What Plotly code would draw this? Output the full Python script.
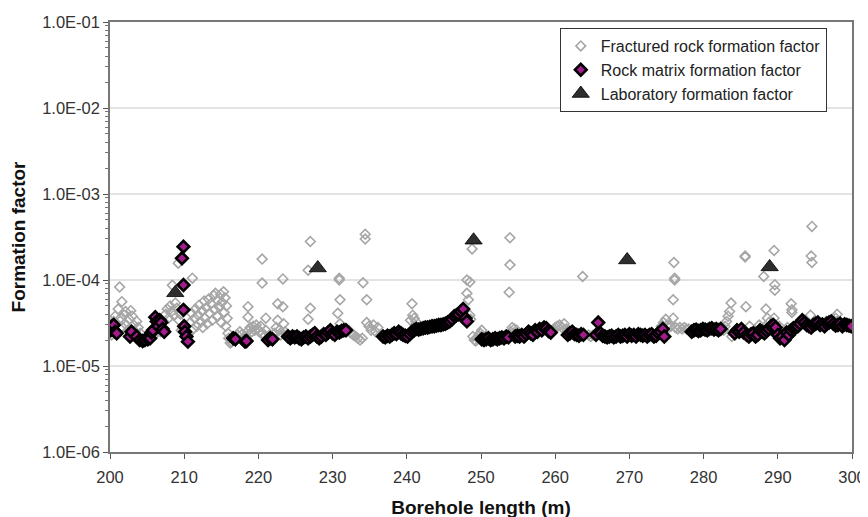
import plotly.graph_objects as go

# ---------------- data (formation factor values given in units of 1e-5) ----------------
frac_depth = [
    200.2, 200.4, 200.5, 200.7, 200.9, 201.1, 201.3, 201.4, 201.6, 201.7, 201.9, 202.1, 202.2, 202.4,
    202.6, 202.8, 203.0, 203.2, 203.4, 203.6, 203.8, 204.1, 205.2, 205.8,
    206.8, 207.2, 207.5, 207.7, 207.9, 208.1, 208.3, 208.4, 208.6, 208.8, 209.0, 209.2, 209.3, 209.5, 209.6,
    210.6, 210.8, 211.0, 211.1, 211.2, 211.4, 211.5, 211.7, 211.9, 212.0, 212.2, 212.4, 212.5, 212.7,
    212.8, 213.0, 213.1, 213.3, 213.4, 213.6, 213.8, 214.0, 214.1, 214.2, 214.4, 214.5, 214.7, 214.9,
    215.0, 215.1, 215.3, 215.4, 215.5, 215.6, 215.7, 215.8, 215.9, 216.0, 216.2, 216.4,
    216.9, 217.2, 217.5, 217.7, 217.9, 218.4, 218.6, 218.6, 218.7, 218.9, 219.1, 219.3, 219.5, 219.7,
    219.9, 220.1, 220.3, 220.5, 220.5, 220.6, 220.8, 221.0, 221.0, 221.5, 222.2, 222.4, 222.6, 222.6,
    222.8, 223.0, 223.3, 223.3, 223.4, 223.6, 223.8,
    226.7, 226.7, 227.0, 227.0, 230.7, 230.9, 230.9, 231.0, 231.0,
    232.2, 232.5, 232.8, 233.1, 233.4, 233.7, 234.0, 234.1, 234.4, 234.4, 234.6, 234.6, 234.9, 235.2,
    235.5, 235.8, 236.1, 236.4, 236.7,
    240.5, 240.7, 240.8, 241.0, 241.2,
    248.1, 248.5, 248.1, 248.3, 248.5, 248.6, 248.8, 248.9, 249.1, 249.3, 249.5, 249.7, 249.9, 250.1,
    253.8, 253.9, 253.9, 254.0, 254.2, 254.5, 254.8,
    259.7, 260.0, 260.3, 260.6, 260.9, 261.2, 261.5, 261.8, 262.1, 263.7,
    264.5, 264.8, 265.1,
    274.3, 274.6, 274.9, 275.1, 275.3, 275.6, 275.9, 275.9, 276.0, 276.1, 276.1, 276.2, 276.5, 276.8,
    277.1, 277.4, 277.7, 278.0, 278.3,
    282.7, 282.9, 283.1, 283.3, 283.5, 283.7, 283.8, 284.0,
    285.6, 285.6, 285.7, 286.2, 287.5, 288.1, 288.4, 288.6, 288.8, 289.5, 289.6, 289.6, 289.5, 290.2,
    291.3, 291.8, 291.9, 291.9, 293.2, 294.4, 294.5, 294.6, 294.6, 296.5, 297.8, 298.0, 298.0, 299.0,
]
frac_ff_e5 = [
    2.3, 2.7, 3.3, 3.8, 3.1, 4.6, 8.3, 3.6, 5.6, 2.8, 3.9, 4.3, 3.0, 2.6,
    3.5, 4.4, 3.8, 3.0, 2.5, 3.3, 2.8, 2.4, 2.3, 2.2,
    2.5, 3.3, 4.0, 4.6, 3.6, 5.0, 4.3, 8.7, 3.9, 5.4, 4.7, 15.7, 3.4, 4.0, 2.6,
    2.4, 3.2, 4.1, 10.5, 2.7, 3.6, 4.6, 2.9, 3.9, 5.1, 3.3, 4.4, 2.8, 5.7,
    3.6, 4.8, 3.1, 6.0, 4.1, 5.3, 3.4, 6.6, 4.5, 7.0, 3.8, 5.8, 4.9, 6.8,
    3.2, 5.5, 7.3, 4.2, 6.2, 2.9, 5.0, 3.6, 2.4, 2.1, 1.85, 1.9,
    2.2, 2.3, 2.5, 2.3, 2.1, 2.2, 4.9, 3.7, 2.6, 2.8, 2.5, 2.9, 2.6, 3.0,
    2.7, 2.5, 2.9, 17.5, 9.2, 2.4, 2.2, 3.6, 2.6, 2.3, 2.4, 2.8, 5.3, 3.4,
    2.6, 2.3, 10.3, 4.9, 3.1, 2.5, 2.3,
    13.0, 3.5, 28.0, 4.7, 4.1, 10.0, 10.5, 5.9, 3.1,
    2.6, 2.4, 2.3, 2.2, 2.1, 2.0, 2.1, 9.3, 34.0, 30.0, 5.9, 3.2, 2.9, 2.6,
    3.0, 2.5, 2.8, 2.3, 2.2,
    3.4, 5.3, 3.9, 3.6, 3.3,
    10.0, 9.5, 7.0, 5.9, 3.9, 3.5, 23.0, 2.2, 2.0, 1.95, 2.1, 2.3, 2.4, 2.6,
    7.2, 15.0, 31.0, 2.5, 2.8, 2.7, 2.6,
    2.6, 2.8, 2.9, 3.0, 2.8, 3.1, 2.7, 2.6, 2.5, 11.0,
    2.3, 2.2, 2.3,
    2.9, 3.2, 3.5, 3.0, 2.8, 2.9, 5.9, 3.6, 16.0, 10.0, 10.5, 2.8, 2.7, 2.8,
    2.7, 2.8, 2.7, 2.7, 2.6,
    2.6, 2.9, 3.3, 3.8, 4.3, 5.4, 2.2, 2.4,
    19.0, 18.5, 4.9, 2.9, 3.0, 11.0, 4.6, 3.6, 3.2, 22.0, 8.8, 7.6, 3.6, 2.9,
    2.8, 5.3, 4.5, 4.2, 3.4, 3.9, 19.0, 42.0, 16.0, 3.3, 3.6, 4.0, 3.3, 3.2,
]

matrix_depth = [
    200.1, 200.3, 200.5, 200.7, 200.9, 202.7, 202.9, 203.6, 204.0, 204.4, 204.7, 205.1,
    205.4, 205.6, 205.8, 206.1, 206.3, 206.5, 206.7, 206.9, 207.1, 207.3,
    209.9, 209.7, 209.9, 209.9, 210.0, 210.1, 210.3, 210.5,
    216.6, 216.9, 218.2, 218.4, 221.3, 221.6, 221.9,
    224.0, 224.3, 224.6, 224.9, 225.2, 225.5, 225.8, 226.1, 226.4, 226.7, 227.0, 227.3, 227.6, 227.9,
    228.2, 228.5, 228.8, 229.1, 229.4, 229.7, 230.0, 230.3, 230.6, 230.9, 231.2, 231.5, 231.8,
    236.8, 237.1, 237.4, 237.7, 238.0, 238.3, 238.6, 238.9, 239.2, 239.5, 239.8, 240.1, 240.4, 240.7,
    241.0, 241.3, 241.6, 241.9, 242.2, 242.5, 242.8, 243.1, 243.4, 243.7, 244.0, 244.3, 244.6, 244.9,
    245.2, 245.5, 245.8, 246.1, 246.4, 246.7, 247.0, 247.3, 247.6, 247.9, 248.1,
    250.1, 250.4, 250.7, 251.0, 251.3, 251.6, 251.9, 252.2, 252.5, 252.8, 253.1, 253.4, 253.7, 254.6,
    254.9, 255.2, 255.5, 255.8, 256.1, 256.4, 256.7, 257.0, 257.3, 257.6, 257.9, 258.2, 258.5, 258.8,
    259.1, 259.4, 261.7, 262.0, 262.3, 262.6, 262.9, 263.2, 263.5, 263.8,
    265.5, 265.8, 266.1, 266.4, 266.7, 267.0, 267.3, 267.6, 267.9, 268.2, 268.5, 268.8, 269.1, 269.4,
    269.7, 270.0, 270.3, 270.6, 270.9, 271.2, 271.5, 271.8, 272.1, 272.4, 272.7, 273.0, 273.3, 273.6,
    273.9, 274.2, 274.5, 274.7,
    278.4, 278.7, 279.0, 279.3, 279.6, 279.9, 280.2, 280.5, 280.8, 281.1, 281.4, 281.7, 282.0, 282.3,
    284.2, 284.5, 284.8, 285.1, 285.4, 285.8, 286.1, 286.4, 286.7, 287.0, 287.3, 287.6, 287.9, 288.2,
    288.5, 288.8, 289.1, 289.4, 289.7, 290.0, 290.3, 290.6, 290.9, 291.2, 291.5, 291.8, 292.1, 292.4,
    292.7, 293.0, 293.3, 293.6, 293.9, 294.2, 294.5, 294.8, 295.1, 295.4, 295.7, 296.0, 296.3, 296.6,
    296.9, 297.2, 297.5, 297.8, 298.1, 298.4, 298.7, 299.0, 299.3, 299.6, 299.9,
]
matrix_ff_e5 = [
    2.6, 2.9, 3.0, 2.5, 2.4, 2.2, 2.5, 2.2, 2.0, 1.95, 2.0, 2.05,
    2.1, 2.45, 2.6, 3.7, 3.3, 2.9, 3.4, 3.2, 2.7, 2.5,
    24.4, 17.9, 8.75, 4.5, 2.9, 2.5, 2.2, 1.92,
    2.1, 2.05, 1.92, 1.95, 2.0, 2.1, 2.05,
    2.2, 2.1, 2.2, 2.15, 2.2, 2.1, 2.05, 2.15, 2.2, 2.1, 2.2, 2.3, 2.4, 2.2,
    2.1, 2.2, 2.35, 2.3, 2.45, 2.6, 2.4, 2.3, 2.5, 2.45, 2.55, 2.6, 2.6,
    2.2, 2.15, 2.25, 2.2, 2.3, 2.4, 2.35, 2.5, 2.4, 2.3, 2.25, 2.2, 2.35, 2.5,
    2.6, 2.7, 2.65, 2.7, 2.75, 2.8, 2.8, 2.85, 2.9, 2.9, 2.95, 3.0, 3.0, 3.05,
    3.1, 3.2, 3.3, 3.5, 3.8, 3.9, 4.0, 4.3, 4.6, 3.6, 3.3,
    2.05, 2.0, 2.05, 2.1, 2.0, 2.05, 2.1, 2.05, 2.1, 2.15, 2.1, 2.2, 2.15, 2.2,
    2.25, 2.2, 2.3, 2.2, 2.35, 2.5, 2.4, 2.3, 2.6, 2.5, 2.7, 2.6, 2.8, 2.75,
    2.55, 2.45, 2.3, 2.4, 2.5, 2.35, 2.3, 2.25, 2.35, 2.3,
    2.3, 3.2, 2.4, 2.25, 2.2, 2.15, 2.2, 2.25, 2.15, 2.2, 2.3, 2.2, 2.25, 2.3,
    2.2, 2.35, 2.25, 2.3, 2.2, 2.35, 2.3, 2.25, 2.3, 2.2, 2.3, 2.35, 2.2, 2.25,
    2.4, 2.5, 2.7, 2.2,
    2.5, 2.6, 2.65, 2.55, 2.6, 2.7, 2.65, 2.6, 2.7, 2.75, 2.65, 2.7, 2.6, 2.7,
    2.4, 2.6, 2.5, 2.7, 2.45, 2.3, 2.2, 2.35, 2.4, 2.2, 2.3, 2.6, 2.5, 2.4,
    2.55, 2.7, 2.9, 3.0, 2.8, 2.3, 2.1, 2.2, 2.0, 2.45, 2.3, 2.6, 2.75, 2.8,
    2.9, 3.1, 3.4, 3.2, 3.0, 2.9, 2.8, 3.0, 3.1, 3.2, 3.0, 3.05, 2.9, 3.1,
    3.2, 3.3, 3.1, 2.95, 3.0, 3.1, 2.9, 3.05, 3.0, 2.95, 2.9,
]

lab_depth = [208.8, 228.0, 249.0, 269.7, 288.9]
lab_ff_e5 = [7.1, 13.8, 29.0, 17.1, 14.2]

y_tick_vals = [1e-6, 1e-5, 1e-4, 1e-3, 1e-2, 1e-1]
y_tick_text = ["1.0E-06", "1.0E-05", "1.0E-04", "1.0E-03", "1.0E-02", "1.0E-01"]
x_tick_vals = [200, 210, 220, 230, 240, 250, 260, 270, 280, 290, 300]
y_minor_vals = [k * d for d in y_tick_vals[:-1] for k in range(2, 10)]

E5 = 1e-5
frac_ff = [v * E5 for v in frac_ff_e5]
matrix_ff = [v * E5 for v in matrix_ff_e5]
lab_ff = [v * E5 for v in lab_ff_e5]

FONT = "Liberation Sans, Arial, sans-serif"

fig = go.Figure()
fig.add_trace(go.Scatter(
    x=frac_depth, y=frac_ff, mode="markers", name="Fractured rock formation factor",
    marker=dict(symbol="diamond-open", size=7.5, color="#a6a6a6", line=dict(width=1.6, color="#a6a6a6")),
))
fig.add_trace(go.Scatter(
    x=matrix_depth, y=matrix_ff, mode="markers", name="Rock matrix formation factor",
    marker=dict(symbol="diamond", size=9, color="#a21c8c", line=dict(width=2.6, color="#000000")),
))
fig.add_trace(go.Scatter(
    x=lab_depth, y=lab_ff, mode="markers", name="Laboratory formation factor",
    marker=dict(symbol="triangle-up", size=15, color="#2e2e2e", line=dict(width=0.8, color="#000000")),
))

# the page adds an 8 px body margin, so margins are offset to place the plot area
fig.update_layout(
    width=868, height=517,
    margin=dict(l=102, r=24, t=14, b=73),
    paper_bgcolor="white", plot_bgcolor="white",
    font=dict(family=FONT, size=16, color="#222"),
    showlegend=True,
    legend=dict(
        x=0.966, y=0.986, xanchor="right", yanchor="top",
        bgcolor="white", bordercolor="#333", borderwidth=1,
        font=dict(family=FONT, size=16, color="#222"),
        tracegroupgap=0, itemwidth=30,
    ),
)
fig.update_xaxes(
    range=[200, 300], tickvals=x_tick_vals, ticks="outside", ticklen=5, tickwidth=1.2,
    tickcolor="#555", showline=True, linecolor="#777", linewidth=1.5, mirror=True,
    showgrid=False, zeroline=False, automargin=False, ticklabelstandoff=4,
    tickfont=dict(family=FONT, size=16.5, color="#333"),
    title=dict(text="<b>Borehole length (m)</b>", font=dict(family=FONT, size=19, color="#111"), standoff=16),
)
fig.update_yaxes(
    type="log", range=[-6, -1], tickvals=y_tick_vals, ticktext=y_tick_text,
    ticks="outside", ticklen=5, tickwidth=1.2, tickcolor="#555",
    minor=dict(tickmode="array", tickvals=y_minor_vals, ticks="outside", ticklen=3,
               tickcolor="#777", showgrid=False),
    showline=True, linecolor="#777", linewidth=1.5, mirror=True,
    showgrid=True, gridcolor="#e3e3e3", gridwidth=1.5, zeroline=False, automargin=False,
    tickfont=dict(family=FONT, size=16.5, color="#333"),
    title=dict(text="<b>Formation factor</b>", font=dict(family=FONT, size=19, color="#111"), standoff=12),
)

fig.write_html("out.html")
